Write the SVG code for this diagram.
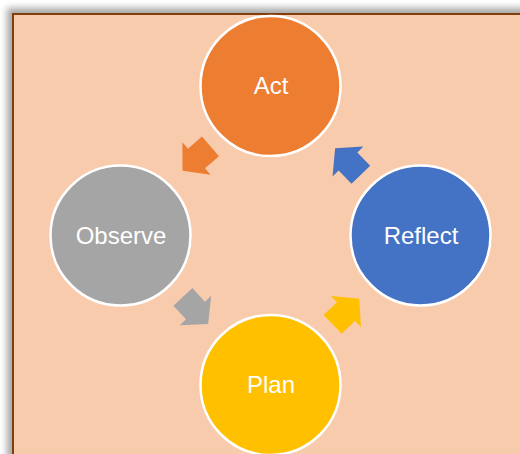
<svg xmlns="http://www.w3.org/2000/svg" width="520" height="454" viewBox="0 0 520 454">
  <defs>
    <filter id="shadow" x="-10%" y="-10%" width="120%" height="120%">
      <feDropShadow dx="-5" dy="-5" stdDeviation="3.5" flood-color="#000000" flood-opacity="0.35"/>
    </filter>
    <path id="arrow" d="M-18.5,-13 L0,-13 L0,-21.5 L18.5,0 L0,21.5 L0,13 L-18.5,13 Z"/>
  </defs>
  <style>
    .node circle { stroke: #FFFFFF; stroke-width: 2.5; }
    .node text { font-family: "Liberation Sans", Arial, sans-serif; font-size: 24px; fill: #FFFFFF; text-anchor: middle; }
  </style>
  <rect x="0" y="0" width="520" height="454" fill="#FFFFFF"/>
  <rect id="frame" x="13" y="14" width="530" height="470" fill="#F8CBAD" stroke="#843C0C" stroke-width="2" filter="url(#shadow)"/>
  <g id="connectors">
    <use href="#arrow" fill="#ED7D31" transform="translate(196.5,158.5) rotate(139)"/>
    <use href="#arrow" fill="#A5A5A5" transform="translate(195.5,310.5) rotate(47)"/>
    <use href="#arrow" fill="#FFC000" transform="translate(346,311.5) rotate(-44)"/>
    <use href="#arrow" fill="#4472C4" transform="translate(348,161.5) rotate(-134)"/>
  </g>
  <g id="act" class="node">
    <circle cx="270.5" cy="86" r="70" fill="#ED7D31"/>
    <text x="271" y="93.5">Act</text>
  </g>
  <g id="observe" class="node">
    <circle cx="120.5" cy="235.5" r="70" fill="#A5A5A5"/>
    <text x="121" y="244">Observe</text>
  </g>
  <g id="reflect" class="node">
    <circle cx="420.5" cy="235.5" r="70" fill="#4472C4"/>
    <text x="421" y="244">Reflect</text>
  </g>
  <g id="plan" class="node">
    <circle cx="270.5" cy="385" r="70" fill="#FFC000"/>
    <text x="271" y="393">Plan</text>
  </g>
</svg>
